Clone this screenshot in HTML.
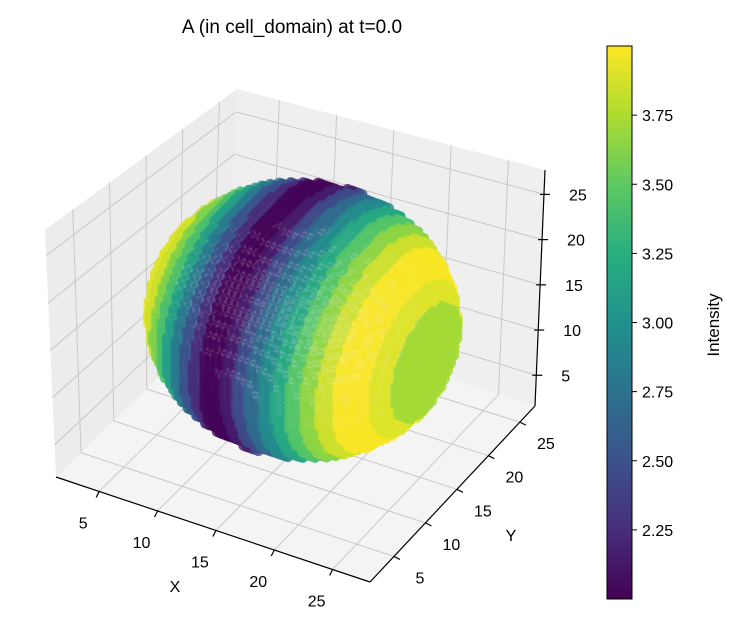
<!DOCTYPE html>
<html><head><meta charset="utf-8"><style>
html,body{margin:0;padding:0;background:#fff}
svg text{font-family:"Liberation Sans","DejaVu Sans",sans-serif;fill:#000}
</style></head><body>
<svg id="c" width="738" height="624" viewBox="0 0 738 624" xmlns="http://www.w3.org/2000/svg">
<defs>
<linearGradient id="vir" x1="0" y1="1" x2="0" y2="0">
<stop offset="0" stop-color="#440154"/><stop offset="0.125" stop-color="#472d7b"/><stop offset="0.25" stop-color="#3b528b"/><stop offset="0.375" stop-color="#2c728e"/><stop offset="0.5" stop-color="#21918c"/><stop offset="0.625" stop-color="#28ae80"/><stop offset="0.75" stop-color="#5ec962"/><stop offset="0.875" stop-color="#addc30"/><stop offset="1" stop-color="#fde725"/>
</linearGradient>
</defs>
<text x="292" y="33" font-size="19" text-anchor="middle">A (in cell_domain) at t=0.0</text>
<g id="panes"></g>
<g id="pts"></g>
<g id="axes"></g>
<rect x="607" y="46" width="25" height="553" fill="url(#vir)" stroke="#000" stroke-width="1"/>
<g id="cbt"></g>
<text transform="translate(719,325) rotate(-90)" font-size="17" text-anchor="middle">Intensity</text>
</svg>
<script>
const xTicks=[5,10,15,20,25];
const yTicks=[5,10,15,20,25];
const zTicks=[5,10,15,20,25];
const cbTicks=[2.25,2.5,2.75,3.0,3.25,3.5,3.75];
// intensity per x index (x = 2..26), read from the stripes
const xIndex=[2,3,4,5,6,7,8,9,10,11,12,13,14,15,16,17,18,19,20,21,22,23,24,25,26];
const intensity=[3.9,3.9,3.9,3.85,3.6,3.4,3.1,2.8,2.5,2.25,2.02,2.02,2.15,2.45,2.7,2.95,3.2,3.45,3.65,3.85,3.98,3.98,3.9,3.72,3.72];
const vmin=2.0,vmax=4.0;
const NS="http://www.w3.org/2000/svg";
function mk(t,a,p){const e=document.createElementNS(NS,t);for(const k in a)e.setAttribute(k,a[k]);p.appendChild(e);return e;}
const X0=1.3,X1=28.2,Y0=1.2,Y1=27.4,Z0=1.6,Z1=27.7;
const fx=v=>(v-X0)/(X1-X0),fy=v=>(v-Y0)/(Y1-Y0),fz=v=>(v-Z0)/(Z1-Z0);
function bil(c,u,v){return [c[0][0]*(1-u)*(1-v)+c[1][0]*u*(1-v)+c[2][0]*(1-u)*v+c[3][0]*u*v,
 c[0][1]*(1-u)*(1-v)+c[1][1]*u*(1-v)+c[2][1]*(1-u)*v+c[3][1]*u*v];}
const left=[[56,477],[228,310],[45,230],[237,89]];
const right=[[228,310],[535,406],[237,89],[545,170]];
const floor=[[56,477],[370,582],[228,310],[535,406]];
const panes=document.getElementById('panes');
function pane(c,fill,name,uT,uf,vT,vf){
 const p=mk('polygon',{points:[c[0],c[1],c[3],c[2]].map(q=>q.join(',')).join(' '),fill:fill},panes);
 
 
 uT.forEach(t=>{const a=bil(c,uf(t),0),b=bil(c,uf(t),1);const l=mk('line',{x1:a[0],y1:a[1],x2:b[0],y2:b[1],stroke:'#c8c8c8','stroke-width':1},panes);
  
  });
 vT.forEach(t=>{const a=bil(c,0,vf(t)),b=bil(c,1,vf(t));const l=mk('line',{x1:a[0],y1:a[1],x2:b[0],y2:b[1],stroke:'#c8c8c8','stroke-width':1},panes);
  
  });
}
pane(left,'#ececec','left-pane',yTicks,fy,zTicks,fz);
pane(right,'#efefef','back-pane',xTicks,fx,zTicks,fz);
pane(floor,'#f4f4f4','floor-pane',xTicks,fx,yTicks,fy);
const vs=[[68,1,84],[71,45,123],[59,82,139],[44,114,142],[33,145,140],[40,174,128],[94,201,98],[173,220,48],[253,231,37]];
function vir(v){let t=Math.max(0,Math.min(1,(v-vmin)/(vmax-vmin)))*8;const i=Math.min(7,Math.floor(t)),f=t-i;
 const c=vs[i].map((a,k)=>Math.round(a+(vs[i+1][k]-a)*f));return 'rgb('+c.join(',')+')';}
const ex=[11.7,4.05],ey=[6.3,-6.55],ez=[0,-9.0];
function proj(x,y,z){return [99+18+(x-5)*ex[0]+(y-Y0)*ey[0]+(z-Z0)*ez[0], 491-12+(x-5)*ex[1]+(y-Y0)*ey[1]+(z-Z0)*ez[1]];}
const C=14,R=11.7,S=0.5,XMAX=24.5;const pts=[];
const V=[0.433,-0.75,0.5];
const inside=(x,y,z)=>x<=XMAX&&(x-C)**2+(y-C)**2+(z-C)**2<=R*R;
for(let x=0;x<=28;x+=S)for(let y=0;y<=28;y+=S)for(let z=0;z<=28;z+=S){
 if(!inside(x,y,z))continue;
 if(inside(x+S,y,z)&&inside(x-S,y,z)&&inside(x,y+S,z)&&inside(x,y-S,z)&&inside(x,y,z+S)&&inside(x,y,z-S))continue;
 const d=V[0]*(x-C)+V[1]*(y-C)+V[2]*(z-C);
 if(d<-3)continue;
 const xi=Math.round(x);const k=xIndex.indexOf(xi);const v=k>=0?intensity[k]:(xi<2?intensity[0]:intensity[intensity.length-1]);
 pts.push({x,y,z,v,d});}
pts.sort((a,b)=>a.d-b.d);
const g=document.getElementById('pts');
pts.forEach(p=>{const s=proj(p.x,p.y,p.z);
 const c=mk('circle',{cx:s[0].toFixed(1),cy:s[1].toFixed(1),r:5.2,fill:vir(p.v),'fill-opacity':0.8},g);
 
 });
const ax=document.getElementById('axes');
function line(a,b,name){const l=mk('line',{x1:a[0],y1:a[1],x2:b[0],y2:b[1],stroke:'#000','stroke-width':1.2},ax);
 
 }
function txt(x,y,s,name,anc){const t=mk('text',{x:x,y:y,'font-size':16,'text-anchor':anc||'middle'},ax);t.textContent=s;
 
 }
line([56,477],[370,582],'x-axis-line');
line([370,582],[535,406],'y-axis-line');
line([535,406],[545,170],'z-axis-line');
xTicks.forEach(t=>{const a=bil(floor,fx(t),0);line(a,[a[0]-3,a[1]+6],'x-tick');txt(a[0]-16,a[1]+37,String(t),'x-tick-label');});
yTicks.forEach(t=>{const a=bil(floor,1,fy(t));line(a,[a[0]+6,a[1]+3],'y-tick');txt(a[0]+26,a[1]+27,String(t),'y-tick-label');});
zTicks.forEach(t=>{const a=bil(right,1,fz(t));line([a[0]-4,a[1]],[a[0]+6,a[1]],'z-tick');txt(a[0]+25,a[1]+6,String(t),'z-tick-label','start');});
txt(175,592,'X','x-axis-title');txt(511,541,'Y','y-axis-title');
const cb=document.getElementById('cbt');
cbTicks.forEach(t=>{const y=599-(t-vmin)/(vmax-vmin)*553;
 const l=mk('line',{x1:632,y1:y,x2:637,y2:y,stroke:'#000'},cb);
 
 
 const tx=mk('text',{x:642,y:y+6,'font-size':16},cb);tx.textContent=t.toFixed(2);
 
 });
</script>
</body></html>
